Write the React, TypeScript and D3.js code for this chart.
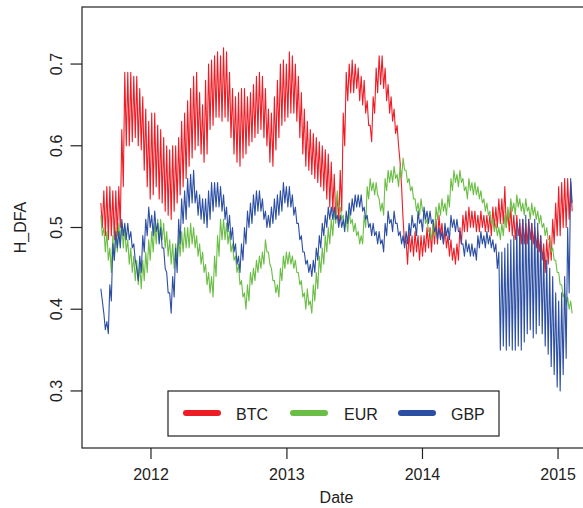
import React from 'react';
import * as d3 from 'd3';

const seriesNames = ['BTC', 'EUR', 'GBP'];
const seriesColors = ['#EE1C25', '#6BBE45', '#2C4FA3'];

// Values, two readings (local high, local low) per ~3 px step.
const btc = [
  0.53, 0.50, 0.545, 0.49, 0.55, 0.485, 0.55, 0.49, 0.545, 0.485,
  0.545, 0.49, 0.55, 0.50, 0.62, 0.55, 0.69, 0.60, 0.69, 0.60,
  0.69, 0.605, 0.685, 0.61, 0.685, 0.60, 0.67, 0.595, 0.66, 0.57,
  0.645, 0.55, 0.63, 0.535, 0.64, 0.54, 0.64, 0.55, 0.625, 0.535,
  0.62, 0.53, 0.61, 0.52, 0.60, 0.515, 0.595, 0.51, 0.60, 0.52,
  0.60, 0.53, 0.61, 0.54, 0.63, 0.55, 0.64, 0.56, 0.655, 0.575,
  0.67, 0.585, 0.685, 0.595, 0.69, 0.60, 0.665, 0.59, 0.65, 0.58,
  0.68, 0.59, 0.70, 0.62, 0.705, 0.625, 0.71, 0.635, 0.715, 0.635,
  0.71, 0.63, 0.72, 0.635, 0.715, 0.63, 0.69, 0.61, 0.67, 0.59,
  0.66, 0.58, 0.665, 0.575, 0.67, 0.585, 0.67, 0.59, 0.66, 0.60,
  0.665, 0.605, 0.675, 0.61, 0.685, 0.615, 0.69, 0.62, 0.685, 0.61,
  0.67, 0.60, 0.645, 0.58, 0.64, 0.575, 0.66, 0.595, 0.68, 0.61,
  0.70, 0.625, 0.705, 0.63, 0.70, 0.635, 0.715, 0.64, 0.71, 0.64,
  0.70, 0.63, 0.685, 0.61, 0.665, 0.59, 0.645, 0.575, 0.63, 0.57,
  0.62, 0.565, 0.615, 0.56, 0.61, 0.555, 0.605, 0.55, 0.60, 0.545,
  0.595, 0.535, 0.59, 0.525, 0.58, 0.52, 0.565, 0.51, 0.54, 0.505,
  0.57, 0.52, 0.64, 0.60, 0.69, 0.655, 0.70, 0.665, 0.705, 0.665,
  0.70, 0.67, 0.695, 0.655, 0.685, 0.65, 0.68, 0.64, 0.655, 0.625,
  0.625, 0.605, 0.66, 0.64, 0.695, 0.665, 0.71, 0.675, 0.71, 0.67,
  0.695, 0.655, 0.675, 0.64, 0.66, 0.63, 0.645, 0.615, 0.625, 0.60,
  0.58, 0.55, 0.51, 0.48, 0.485, 0.455, 0.495, 0.47, 0.49, 0.465,
  0.495, 0.47, 0.49, 0.46, 0.49, 0.465, 0.49, 0.47, 0.50, 0.475,
  0.50, 0.47, 0.505, 0.48, 0.51, 0.48, 0.515, 0.49, 0.505, 0.48,
  0.50, 0.475, 0.49, 0.465, 0.485, 0.46, 0.475, 0.455, 0.48, 0.46,
  0.50, 0.48, 0.515, 0.495, 0.52, 0.495, 0.525, 0.50, 0.52, 0.50,
  0.52, 0.495, 0.515, 0.495, 0.52, 0.50, 0.515, 0.495, 0.515, 0.495,
  0.515, 0.49, 0.525, 0.50, 0.525, 0.50, 0.535, 0.505, 0.535, 0.505,
  0.55, 0.50, 0.52, 0.495, 0.525, 0.49, 0.515, 0.485, 0.515, 0.49,
  0.505, 0.48, 0.51, 0.48, 0.505, 0.48, 0.51, 0.485, 0.505, 0.48,
  0.50, 0.475, 0.495, 0.47, 0.49, 0.46, 0.48, 0.445, 0.485, 0.455,
  0.49, 0.46, 0.51, 0.48, 0.53, 0.49, 0.55, 0.49, 0.555, 0.50,
  0.56, 0.50, 0.56, 0.51, 0.555, 0.52,
];

const eur = [
  0.515, 0.49, 0.50, 0.47, 0.495, 0.46, 0.475, 0.445, 0.49, 0.46,
  0.50, 0.47, 0.505, 0.48, 0.505, 0.475, 0.50, 0.47, 0.485, 0.455,
  0.475, 0.445, 0.465, 0.435, 0.46, 0.43, 0.455, 0.425, 0.46, 0.435,
  0.47, 0.445, 0.485, 0.46, 0.495, 0.47, 0.505, 0.48, 0.51, 0.485,
  0.51, 0.485, 0.505, 0.475, 0.495, 0.465, 0.485, 0.455, 0.48, 0.45,
  0.48, 0.455, 0.49, 0.465, 0.495, 0.47, 0.50, 0.475, 0.50, 0.475,
  0.505, 0.48, 0.50, 0.475, 0.49, 0.465, 0.48, 0.455, 0.47, 0.445,
  0.455, 0.43, 0.445, 0.42, 0.44, 0.415, 0.465, 0.44, 0.49, 0.465,
  0.51, 0.485, 0.51, 0.485, 0.505, 0.48, 0.495, 0.47, 0.48, 0.46,
  0.465, 0.445, 0.455, 0.43, 0.435, 0.415, 0.42, 0.40, 0.43, 0.41,
  0.445, 0.43, 0.45, 0.435, 0.46, 0.445, 0.465, 0.45, 0.47, 0.455,
  0.485, 0.47, 0.47, 0.455, 0.45, 0.435, 0.435, 0.42, 0.43, 0.415,
  0.45, 0.435, 0.465, 0.45, 0.47, 0.455, 0.47, 0.455, 0.465, 0.45,
  0.46, 0.445, 0.445, 0.43, 0.435, 0.415, 0.42, 0.40, 0.425, 0.405,
  0.41, 0.395, 0.43, 0.41, 0.445, 0.425, 0.465, 0.445, 0.475, 0.455,
  0.49, 0.47, 0.50, 0.48, 0.51, 0.49, 0.52, 0.505, 0.545, 0.525,
  0.525, 0.51, 0.515, 0.50, 0.51, 0.495, 0.52, 0.505, 0.51, 0.495,
  0.505, 0.49, 0.495, 0.48, 0.49, 0.48, 0.515, 0.50, 0.55, 0.535,
  0.56, 0.545, 0.555, 0.54, 0.555, 0.54, 0.535, 0.52, 0.53, 0.515,
  0.56, 0.545, 0.57, 0.555, 0.57, 0.555, 0.575, 0.56, 0.565, 0.55,
  0.575, 0.56, 0.585, 0.57, 0.57, 0.555, 0.56, 0.545, 0.55, 0.535,
  0.535, 0.52, 0.53, 0.515, 0.535, 0.52, 0.52, 0.505, 0.51, 0.495,
  0.495, 0.485, 0.505, 0.49, 0.525, 0.51, 0.53, 0.515, 0.535, 0.52,
  0.53, 0.515, 0.54, 0.525, 0.56, 0.545, 0.57, 0.555, 0.565, 0.55,
  0.57, 0.555, 0.56, 0.545, 0.55, 0.535, 0.56, 0.545, 0.555, 0.54,
  0.555, 0.54, 0.55, 0.535, 0.545, 0.53, 0.535, 0.52, 0.53, 0.515,
  0.52, 0.505, 0.51, 0.495, 0.505, 0.49, 0.50, 0.485, 0.505, 0.49,
  0.515, 0.50, 0.525, 0.51, 0.535, 0.52, 0.53, 0.515, 0.54, 0.525,
  0.535, 0.52, 0.53, 0.515, 0.535, 0.52, 0.525, 0.51, 0.53, 0.515,
  0.525, 0.51, 0.52, 0.505, 0.515, 0.50, 0.505, 0.49, 0.50, 0.485,
  0.485, 0.47, 0.475, 0.46, 0.46, 0.445, 0.445, 0.43, 0.43, 0.415,
  0.42, 0.405, 0.415, 0.40, 0.41, 0.395,
];

const gbp = [
  0.425, 0.41, 0.395, 0.375, 0.385, 0.37, 0.43, 0.41, 0.48, 0.46,
  0.495, 0.475, 0.495, 0.475, 0.51, 0.49, 0.505, 0.485, 0.505, 0.485,
  0.495, 0.475, 0.48, 0.46, 0.45, 0.435, 0.465, 0.445, 0.49, 0.47,
  0.51, 0.49, 0.525, 0.50, 0.515, 0.49, 0.52, 0.495, 0.505, 0.48,
  0.50, 0.475, 0.475, 0.45, 0.445, 0.42, 0.42, 0.395, 0.44, 0.415,
  0.475, 0.445, 0.51, 0.48, 0.535, 0.505, 0.545, 0.51, 0.56, 0.525,
  0.565, 0.53, 0.57, 0.53, 0.545, 0.515, 0.54, 0.51, 0.535, 0.505,
  0.535, 0.50, 0.545, 0.51, 0.555, 0.52, 0.555, 0.525, 0.555, 0.525,
  0.55, 0.52, 0.54, 0.51, 0.525, 0.495, 0.515, 0.485, 0.50, 0.47,
  0.48, 0.455, 0.465, 0.445, 0.48, 0.46, 0.50, 0.48, 0.52, 0.50,
  0.53, 0.505, 0.54, 0.515, 0.545, 0.52, 0.545, 0.52, 0.535, 0.51,
  0.52, 0.50, 0.515, 0.50, 0.525, 0.505, 0.535, 0.51, 0.54, 0.515,
  0.545, 0.52, 0.555, 0.53, 0.55, 0.525, 0.55, 0.525, 0.54, 0.515,
  0.525, 0.505, 0.505, 0.485, 0.49, 0.47, 0.47, 0.455, 0.46, 0.445,
  0.455, 0.44, 0.46, 0.445, 0.475, 0.46, 0.49, 0.475, 0.505, 0.49,
  0.515, 0.50, 0.525, 0.51, 0.525, 0.51, 0.525, 0.51, 0.515, 0.50,
  0.515, 0.50, 0.51, 0.495, 0.52, 0.505, 0.53, 0.515, 0.535, 0.52,
  0.54, 0.525, 0.54, 0.525, 0.54, 0.52, 0.525, 0.51, 0.515, 0.50,
  0.505, 0.49, 0.505, 0.49, 0.495, 0.48, 0.495, 0.48, 0.485, 0.47,
  0.505, 0.49, 0.52, 0.505, 0.51, 0.495, 0.52, 0.505, 0.505, 0.49,
  0.495, 0.48, 0.49, 0.475, 0.495, 0.48, 0.505, 0.49, 0.515, 0.50,
  0.505, 0.49, 0.52, 0.505, 0.51, 0.495, 0.525, 0.51, 0.52, 0.505,
  0.52, 0.505, 0.51, 0.495, 0.50, 0.485, 0.50, 0.485, 0.495, 0.48,
  0.505, 0.49, 0.50, 0.485, 0.515, 0.50, 0.51, 0.495, 0.51, 0.495,
  0.495, 0.48, 0.48, 0.465, 0.485, 0.47, 0.48, 0.465, 0.48, 0.465,
  0.475, 0.46, 0.49, 0.475, 0.495, 0.48, 0.49, 0.475, 0.495, 0.48,
  0.49, 0.475, 0.485, 0.47, 0.48, 0.45, 0.47, 0.35, 0.47, 0.355,
  0.475, 0.35, 0.48, 0.355, 0.485, 0.35, 0.49, 0.35, 0.505, 0.355,
  0.51, 0.35, 0.51, 0.36, 0.515, 0.37, 0.51, 0.375, 0.505, 0.365,
  0.51, 0.37, 0.505, 0.38, 0.49, 0.37, 0.47, 0.355, 0.46, 0.345,
  0.45, 0.33, 0.44, 0.32, 0.42, 0.305, 0.41, 0.30, 0.42, 0.32,
  0.44, 0.34, 0.50, 0.42, 0.56, 0.53,
];

const yTicks = [0.3, 0.4, 0.5, 0.6, 0.7];
const xTickYears = [2012, 2013, 2014, 2015];
const startDate = new Date(2011, 7, 19);
const endDate = new Date(2015, 1, 8);

const FONT = '"Liberation Sans", Arial, Helvetica, sans-serif';
const INK = '#222';

export default function App() {
  const W = 583;
  const H = 508;
  const span = +endDate - +startDate;
  const datesFor = (n: number) =>
    d3.range(n).map((i) => new Date(+startDate + (i * span) / (n - 1)));

  const x = d3
    .scaleTime()
    .domain([new Date(+startDate - 0.04 * span), new Date(+endDate + 0.04 * span)])
    .range([82, 591]);
  const y = d3.scaleLinear().domain([0.2302, 0.7698]).range([448, 7]);

  const [x0, x1] = x.range();
  const [y0, y1] = y.range();

  const series = [btc, eur, gbp];
  const paths = series.map((s) => {
    const dates = datesFor(s.length);
    return (
      d3
        .line<number>()
        .x((_, i) => x(dates[i]))
        .y((d) => y(d))(s) || ''
    );
  });

  const legend = { x: 168, y: 391, w: 331, h: 45 };
  const legendItems = [
    { lx: 186, tx: 236 },
    { lx: 293, tx: 344 },
    { lx: 401, tx: 451 },
  ];

  return (
    <svg
      width={W}
      height={H}
      style={{ position: 'absolute', left: 0, top: 0, background: '#fff' }}
      fontFamily={FONT}
    >
      <defs>
        <clipPath id="plotclip">
          <rect x={x0} y={y1} width={x1 - x0} height={y0 - y1} />
        </clipPath>
      </defs>
      <rect x={0} y={0} width={W} height={H} fill="#fff" />

      <g clipPath="url(#plotclip)">
        {paths.map((d, k) => (
          <path
            key={seriesNames[k]}
            d={d}
            fill="none"
            stroke={seriesColors[k]}
            strokeWidth={1.1}
            strokeLinejoin="round"
          />
        ))}
      </g>

      <rect
        x={x0}
        y={y1}
        width={x1 - x0}
        height={y0 - y1}
        fill="none"
        stroke={INK}
        strokeWidth={1.2}
      />

      {yTicks.map((t) => (
        <g key={t}>
          <line x1={x0 - 11.5} x2={x0} y1={y(t)} y2={y(t)} stroke={INK} strokeWidth={1.2} />
          <text
            transform={`translate(61.5,${y(t)}) rotate(-90)`}
            textAnchor="middle"
            fontSize={16}
            fill={INK}
          >
            {t.toFixed(1)}
          </text>
        </g>
      ))}

      {xTickYears.map((yr) => {
        const px = x(new Date(yr, 0, 1));
        return (
          <g key={yr}>
            <line x1={px} x2={px} y1={y0} y2={y0 + 11} stroke={INK} strokeWidth={1.2} />
            <text x={px} y={480} textAnchor="middle" fontSize={16} fill={INK}>
              {yr}
            </text>
          </g>
        );
      })}

      <text x={(x0 + x1) / 2} y={503} textAnchor="middle" fontSize={16} fill={INK}>
        Date
      </text>
      <text
        transform={`translate(26,${(y0 + y1) / 2}) rotate(-90)`}
        textAnchor="middle"
        fontSize={16}
        fill={INK}
      >
        H_DFA
      </text>

      <rect
        x={legend.x}
        y={legend.y}
        width={legend.w}
        height={legend.h}
        fill="#fff"
        stroke={INK}
        strokeWidth={1.2}
      />
      {seriesNames.map((name, k) => (
        <g key={name}>
          <line
            x1={legendItems[k].lx}
            x2={legendItems[k].lx + 32}
            y1={413}
            y2={413}
            stroke={seriesColors[k]}
            strokeWidth={6}
            strokeLinecap="round"
          />
          <text x={legendItems[k].tx} y={420} fontSize={16} fill={INK}>
            {name}
          </text>
        </g>
      ))}
    </svg>
  );
}
